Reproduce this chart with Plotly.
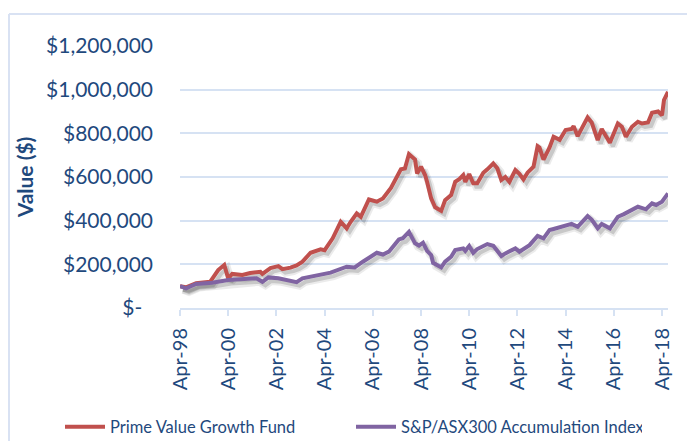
import plotly.graph_objects as go

# ---- Data (values in $ thousands) ----
fund_dates = [
    "1998-04", "1998-07", "1998-12", "1999-07", "1999-11", "2000-02", "2000-04", "2000-06",
    "2000-11", "2001-03", "2001-08", "2001-09", "2002-01", "2002-05", "2002-07", "2002-11",
    "2003-02", "2003-05", "2003-09", "2004-02", "2004-04", "2004-08", "2004-12", "2005-03",
    "2005-05", "2005-08", "2005-10", "2006-02", "2006-06", "2006-09", "2007-01", "2007-04",
    "2007-06", "2007-08", "2007-10", "2008-01", "2008-02", "2008-04", "2008-06", "2008-07",
    "2008-09", "2008-11", "2009-02", "2009-04", "2009-07", "2009-09", "2009-11", "2010-01",
    "2010-02", "2010-04", "2010-06", "2010-08", "2010-11", "2011-01", "2011-04", "2011-06",
    "2011-08", "2011-10", "2011-12", "2012-03", "2012-05", "2012-07", "2012-09", "2012-12",
    "2013-02", "2013-03", "2013-05", "2013-08", "2013-10", "2014-01", "2014-04", "2014-07",
    "2014-08", "2014-10", "2014-12", "2015-03", "2015-05", "2015-08", "2015-10", "2016-02",
    "2016-04", "2016-06", "2016-08", "2016-10", "2017-01", "2017-04", "2017-06", "2017-09",
    "2017-11", "2018-02", "2018-04", "2018-05", "2018-07",
]
fund_values = [
    100, 95, 113, 120, 174, 197, 136, 156,
    151, 160, 166, 156, 183, 192, 178, 185,
    195, 212, 253, 269, 265, 319, 395, 365,
    395, 433, 418, 497, 487, 502, 550, 600,
    635, 639, 705, 680, 616, 647, 609, 578,
    502, 461, 445, 494, 517, 578, 590, 609,
    578, 613, 571, 571, 619, 635, 662, 640,
    586, 600, 578, 632, 615, 589, 620, 647,
    741, 735, 680, 735, 784, 770, 815, 820,
    833, 787, 820, 873, 850, 769, 820, 757,
    800, 845, 830, 784, 830, 853, 845, 850,
    894, 900, 883, 952, 990,
]

index_dates = [
    "1998-04", "1998-07", "1998-12", "1999-08", "2000-04", "2001-03", "2001-06", "2001-09",
    "2001-12", "2002-05", "2002-09", "2003-02", "2003-05", "2003-10", "2004-07", "2005-03",
    "2005-07", "2005-11", "2006-06", "2006-09", "2006-12", "2007-05", "2007-07", "2007-10",
    "2008-01", "2008-03", "2008-05", "2008-07", "2008-09", "2008-10", "2009-02", "2009-04",
    "2009-07", "2009-09", "2010-01", "2010-02", "2010-04", "2010-06", "2010-08", "2011-01",
    "2011-04", "2011-08", "2011-10", "2012-03", "2012-05", "2012-10", "2013-02", "2013-05",
    "2013-08", "2013-10", "2014-04", "2014-07", "2014-10", "2015-03", "2015-05", "2015-08",
    "2015-10", "2016-02", "2016-06", "2016-09", "2017-04", "2017-08", "2017-11", "2018-01",
    "2018-04", "2018-07",
]
index_values = [
    100, 90, 110, 116, 128, 133, 136, 120,
    140, 136, 130, 118, 136, 146, 162, 189,
    186, 212, 253, 245, 258, 314, 320, 349,
    296, 286, 299, 262, 243, 207, 186, 212,
    235, 265, 273, 262, 284, 253, 270, 293,
    285, 238, 250, 273, 258, 288, 330, 319,
    357, 362, 375, 385, 372, 421, 405, 365,
    385, 365, 418, 430, 464, 452, 479, 472,
    487, 525,
]

y_ticks = [0, 200000, 400000, 600000, 800000, 1000000, 1200000]
y_tick_labels = ["$-\u00a0\u00a0", "$200,000", "$400,000", "$600,000", "$800,000",
                 "$1,000,000", "$1,200,000"]
x_ticks = ["1998-04-01", "2000-04-01", "2002-04-01", "2004-04-01", "2006-04-01",
           "2008-04-01", "2010-04-01", "2012-04-01", "2014-04-01", "2016-04-01",
           "2018-04-01"]
x_tick_labels = ["Apr-98", "Apr-00", "Apr-02", "Apr-04", "Apr-06", "Apr-08",
                 "Apr-10", "Apr-12", "Apr-14", "Apr-16", "Apr-18"]

fund_name = "Prime Value Growth Fund"
index_name = "S&P/ASX300 Accumulation Index"

RED = "#C0504D"
PURPLE = "#8064A2"
TEXT = "#1F497D"
GRID = "#D6E2F3"
FONT = "Lato"

fund_y = [v * 1000 for v in fund_values]
index_y = [v * 1000 for v in index_values]

# figure geometry (the page body adds an 8px offset)
W, H = 687, 433
L, R, T, B = 172, 27, 38, 133
PW, PH = W - L - R, H - T - B

fig = go.Figure()

# soft drop shadows (same data, drawn on offset hidden axes)
for xs, ys in ((fund_dates, fund_y), (index_dates, index_y)):
    fig.add_trace(go.Scatter(x=xs, y=ys, mode="lines", xaxis="x", yaxis="y",
                             line=dict(color="rgba(0,0,0,0.08)", width=8),
                             showlegend=False, hoverinfo="skip"))
    fig.add_trace(go.Scatter(x=xs, y=ys, mode="lines", xaxis="x", yaxis="y",
                             line=dict(color="rgba(0,0,0,0.15)", width=4),
                             showlegend=False, hoverinfo="skip"))

fig.add_trace(go.Scatter(x=fund_dates, y=fund_y, mode="lines", name=fund_name,
                         xaxis="x2", yaxis="y2",
                         line=dict(color=RED, width=4)))
fig.add_trace(go.Scatter(x=index_dates, y=index_y, mode="lines", name=index_name,
                         xaxis="x2", yaxis="y2",
                         line=dict(color=PURPLE, width=4)))

x_range = ["1998-04-01", "2018-07-01"]
shadow_x_range = ["1998-02-15", "2018-05-15"]
shadow_dy = 16000

fig.update_layout(
    width=W, height=H, autosize=False,
    margin=dict(l=L, r=R, t=T, b=B, autoexpand=False),
    paper_bgcolor="white", plot_bgcolor="white",
    font=dict(family=FONT, color=TEXT),
    xaxis=dict(type="date", range=shadow_x_range, visible=False, showgrid=False),
    yaxis=dict(range=[shadow_dy, 1200000 + shadow_dy], visible=False, showgrid=False),
    xaxis2=dict(type="date", range=x_range, overlaying="x", anchor="y2",
                tickmode="array", tickvals=x_ticks, ticktext=x_tick_labels,
                tickangle=-90, ticks="outside", ticklen=6, tickwidth=2, tickcolor=GRID,
                showline=True, linecolor=GRID, linewidth=2, showgrid=False,
                automargin=False,
                tickfont=dict(size=20, color=TEXT, family=FONT), ticklabelstandoff=4),
    yaxis2=dict(range=[0, 1200000], overlaying="y", anchor="x2",
                tickmode="array", tickvals=y_ticks, ticktext=y_tick_labels,
                showgrid=True, gridcolor=GRID, gridwidth=2, zeroline=False,
                showline=False, ticks="", automargin=False,
                tickfont=dict(size=21, color=TEXT, family=FONT), ticklabelstandoff=26,
                title=dict(text="<b>Value ($)</b>", standoff=6,
                           font=dict(size=21, color=TEXT, family=FONT))),
    legend=dict(orientation="h",
                x=(52 - L) / PW, xanchor="left",
                y=(T + PH - 419) / PH, yanchor="middle",
                font=dict(size=16.5, color=TEXT, family=FONT),
                entrywidth=236, entrywidthmode="pixels", itemwidth=40,
                bgcolor="rgba(0,0,0,0)"),
    shapes=[
        dict(type="line", xref="paper", yref="paper",
             x0=(1 - L) / PW, x1=(1 - L) / PW,
             y0=(T + PH - 6) / PH, y1=(T + PH - 440) / PH,
             line=dict(color="#D9E2F3", width=2)),
        dict(type="line", xref="paper", yref="paper",
             x0=(1 - L) / PW, x1=(700 - L) / PW,
             y0=(T + PH - 6) / PH, y1=(T + PH - 6) / PH,
             line=dict(color="#D9E2F3", width=2)),
    ],
)

fig.write_html("out.html")
